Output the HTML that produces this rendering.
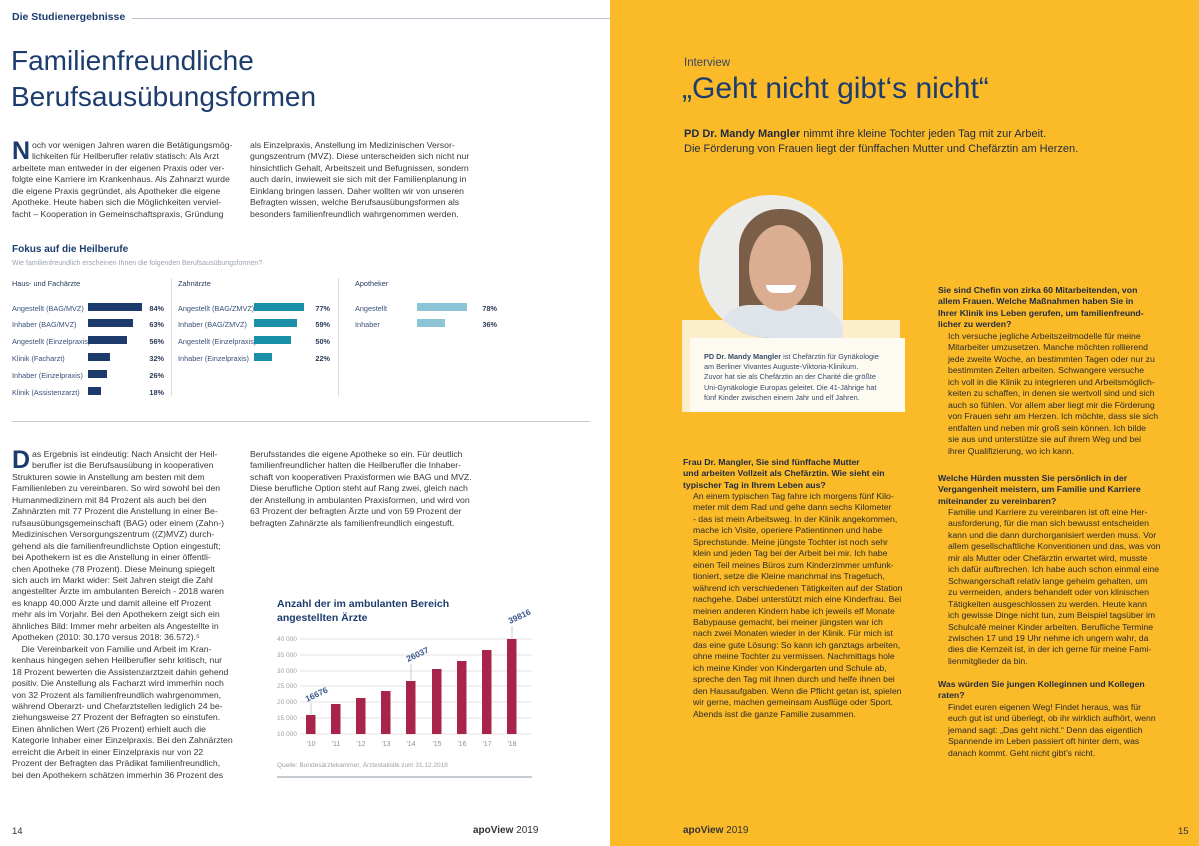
<!DOCTYPE html>
<html><head><meta charset="utf-8"><style>
*{margin:0;padding:0;box-sizing:border-box}
body{width:1199px;height:846px;position:relative;overflow:hidden;background:#fff;font-family:"Liberation Sans",sans-serif;color:#333}
.a{position:absolute;white-space:nowrap}
.t{font-size:8.7px;line-height:11.45px;color:#3a3a3a}
.r{font-size:8.7px;line-height:11.45px;color:#2b2b2b}
.q{font-weight:bold;color:#1f2a40}
.navy{color:#1d3c6e}
.bar{position:absolute;height:8px}
.lab{position:absolute;font-size:7.3px;color:#3a5078;white-space:nowrap}
.pct{position:absolute;font-size:7.3px;font-weight:bold;color:#2a3a58;text-align:right;width:30px}
.drop{position:absolute;left:0;top:0;font-size:25px;line-height:22px;font-weight:bold;color:#1d3c6e}
.ind{padding-left:20px}
</style></head><body>
<div class="a" style="left:610px;top:0;width:589px;height:846px;background:#fbba27"></div>

<div class="a navy" style="left:12px;top:11px;font-size:10.5px;font-weight:bold">Die Studienergebnisse</div>
<div class="a" style="left:132px;top:18px;width:478px;height:1px;background:#b9c2d0"></div>
<div class="a navy" style="left:11px;top:43px;font-size:28px;line-height:36px">Familienfreundliche<br>Berufsausübungsformen</div>

<div class="a t" style="left:12px;top:140px"><span class="drop">N</span><span class="ind">och vor wenigen Jahren waren die Betätigungsmög-</span><br><span class="ind">lichkeiten für Heilberufler relativ statisch: Als Arzt</span><br>arbeitete man entweder in der eigenen Praxis oder ver-<br>folgte eine Karriere im Krankenhaus. Als Zahnarzt wurde<br>die eigene Praxis gegründet, als Apotheker die eigene<br>Apotheke. Heute haben sich die Möglichkeiten verviel-<br>facht – Kooperation in Gemeinschaftspraxis, Gründung</div>
<div class="a t" style="left:250px;top:140px">als Einzelpraxis, Anstellung im Medizinischen Versor-<br>gungszentrum (MVZ). Diese unterscheiden sich nicht nur<br>hinsichtlich Gehalt, Arbeitszeit und Befugnissen, sondern<br>auch darin, inwieweit sie sich mit der Familienplanung in<br>Einklang bringen lassen. Daher wollten wir von unseren<br>Befragten wissen, welche Berufsausübungsformen als<br>besonders familienfreundlich wahrgenommen werden.</div>

<div class="a navy" style="left:12px;top:244px;font-size:10px;font-weight:bold">Fokus auf die Heilberufe</div>
<div class="a" style="left:12px;top:260px;font-size:7px;color:#9aa3b0">Wie familienfreundlich erscheinen Ihnen die folgenden Berufsausübungsformen?</div>
<div class="lab" style="left:12px;top:279px;color:#233a5e">Haus- und Fachärzte</div>
<div class="lab" style="left:178px;top:279px;color:#233a5e">Zahnärzte</div>
<div class="lab" style="left:355px;top:279px;color:#233a5e">Apotheker</div>
<div class="a" style="left:171px;top:278px;width:1px;height:118px;background:#ddd"></div>
<div class="a" style="left:338px;top:278px;width:1px;height:118px;background:#ddd"></div>

<div class="lab" style="left:12px;top:304px">Angestellt (BAG/MVZ)</div><div class="bar" style="left:88px;top:303px;width:54px;background:#1c3a6c"></div><div class="pct" style="left:134px;top:304px">84%</div>
<div class="lab" style="left:12px;top:320px">Inhaber (BAG/MVZ)</div><div class="bar" style="left:88px;top:319px;width:45px;background:#1c3a6c"></div><div class="pct" style="left:134px;top:320px">63%</div>
<div class="lab" style="left:12px;top:337px">Angestellt (Einzelpraxis)</div><div class="bar" style="left:88px;top:336px;width:39px;background:#1c3a6c"></div><div class="pct" style="left:134px;top:337px">56%</div>
<div class="lab" style="left:12px;top:354px">Klinik (Facharzt)</div><div class="bar" style="left:88px;top:353px;width:22px;background:#1c3a6c"></div><div class="pct" style="left:134px;top:354px">32%</div>
<div class="lab" style="left:12px;top:371px">Inhaber (Einzelpraxis)</div><div class="bar" style="left:88px;top:370px;width:19px;background:#1c3a6c"></div><div class="pct" style="left:134px;top:371px">26%</div>
<div class="lab" style="left:12px;top:388px">Klinik (Assistenzarzt)</div><div class="bar" style="left:88px;top:387px;width:13px;background:#1c3a6c"></div><div class="pct" style="left:134px;top:388px">18%</div>

<div class="lab" style="left:178px;top:304px">Angestellt (BAG/ZMVZ)</div><div class="bar" style="left:254px;top:303px;width:50px;background:#1a8fa8"></div><div class="pct" style="left:300px;top:304px">77%</div>
<div class="lab" style="left:178px;top:320px">Inhaber (BAG/ZMVZ)</div><div class="bar" style="left:254px;top:319px;width:43px;background:#1a8fa8"></div><div class="pct" style="left:300px;top:320px">59%</div>
<div class="lab" style="left:178px;top:337px">Angestellt (Einzelpraxis)</div><div class="bar" style="left:254px;top:336px;width:37px;background:#1a8fa8"></div><div class="pct" style="left:300px;top:337px">50%</div>
<div class="lab" style="left:178px;top:354px">Inhaber (Einzelpraxis)</div><div class="bar" style="left:254px;top:353px;width:18px;background:#1a8fa8"></div><div class="pct" style="left:300px;top:354px">22%</div>

<div class="lab" style="left:355px;top:304px">Angestellt</div><div class="bar" style="left:417px;top:303px;width:50px;background:#8cc3d6"></div><div class="pct" style="left:467px;top:304px">78%</div>
<div class="lab" style="left:355px;top:320px">Inhaber</div><div class="bar" style="left:417px;top:319px;width:28px;background:#8cc3d6"></div><div class="pct" style="left:467px;top:320px">36%</div>

<div class="a" style="left:12px;top:421px;width:578px;height:1px;background:#c4c9d2"></div>

<div class="a t" style="left:12px;top:449px"><span class="drop">D</span><span class="ind">as Ergebnis ist eindeutig: Nach Ansicht der Heil-</span><br><span class="ind">berufler ist die Berufsausübung in kooperativen</span><br>Strukturen sowie in Anstellung am besten mit dem<br>Familienleben zu vereinbaren. So wird sowohl bei den<br>Humanmedizinern mit 84 Prozent als auch bei den<br>Zahnärzten mit 77 Prozent die Anstellung in einer Be-<br>rufsausübungsgemeinschaft (BAG) oder einem (Zahn-)<br>Medizinischen Versorgungszentrum ((Z)MVZ) durch-<br>gehend als die familienfreundlichste Option eingestuft;<br>bei Apothekern ist es die Anstellung in einer öffentli-<br>chen Apotheke (78 Prozent). Diese Meinung spiegelt<br>sich auch im Markt wider: Seit Jahren steigt die Zahl<br>angestellter Ärzte im ambulanten Bereich - 2018 waren<br>es knapp 40.000 Ärzte und damit alleine elf Prozent<br>mehr als im Vorjahr. Bei den Apothekern zeigt sich ein<br>ähnliches Bild: Immer mehr arbeiten als Angestellte in<br>Apotheken (2010: 30.170 versus 2018: 36.572).⁵<br>&nbsp;&nbsp;&nbsp;&nbsp;Die Vereinbarkeit von Familie und Arbeit im Kran-<br>kenhaus hingegen sehen Heilberufler sehr kritisch, nur<br>18 Prozent bewerten die Assistenzarztzeit dahin gehend<br>positiv. Die Anstellung als Facharzt wird immerhin noch<br>von 32 Prozent als familienfreundlich wahrgenommen,<br>während Oberarzt- und Chefarztstellen lediglich 24 be-<br>ziehungsweise 27 Prozent der Befragten so einstufen.<br>Einen ähnlichen Wert (26 Prozent) erhielt auch die<br>Kategorie Inhaber einer Einzelpraxis. Bei den Zahnärzten<br>erreicht die Arbeit in einer Einzelpraxis nur von 22<br>Prozent der Befragten das Prädikat familienfreundlich,<br>bei den Apothekern schätzen immerhin 36 Prozent des</div>
<div class="a t" style="left:250px;top:449px">Berufsstandes die eigene Apotheke so ein. Für deutlich<br>familienfreundlicher halten die Heilberufler die Inhaber-<br>schaft von kooperativen Praxisformen wie BAG und MVZ.<br>Diese berufliche Option steht auf Rang zwei, gleich nach<br>der Anstellung in ambulanten Praxisformen, und wird von<br>63 Prozent der befragten Ärzte und von 59 Prozent der<br>befragten Zahnärzte als familienfreundlich eingestuft.</div>

<div class="a navy" style="left:277px;top:597px;font-size:10.5px;font-weight:bold;line-height:14px">Anzahl der im ambulanten Bereich<br>angestellten Ärzte</div>
<svg class="a" style="left:0;top:0" width="610" height="846">
<g font-family="Liberation Sans" font-size="6.5" fill="#9aa0a8">
<text x="277" y="641">40 000</text><text x="277" y="657">35 000</text><text x="277" y="673">30 000</text><text x="277" y="688">25 000</text><text x="277" y="704">20 000</text><text x="277" y="720">15 000</text><text x="277" y="736">10 000</text>
</g>
<g stroke="#e3e3e3" stroke-width="1">
<line x1="300" y1="639" x2="532" y2="639"/><line x1="300" y1="655" x2="532" y2="655"/><line x1="300" y1="671" x2="532" y2="671"/><line x1="300" y1="686" x2="532" y2="686"/><line x1="300" y1="702" x2="532" y2="702"/><line x1="300" y1="718" x2="532" y2="718"/><line x1="300" y1="734" x2="532" y2="734"/>
</g>
<g fill="#a8244a">
<rect x="306" y="715" width="9.5" height="19"/>
<rect x="331" y="704" width="9.5" height="30"/>
<rect x="356" y="698" width="9.5" height="36"/>
<rect x="381" y="691" width="9.5" height="43"/>
<rect x="406" y="681" width="9.5" height="53"/>
<rect x="432" y="669" width="9.5" height="65"/>
<rect x="457" y="661" width="9.5" height="73"/>
<rect x="482" y="650" width="9.5" height="84"/>
<rect x="507" y="639" width="9.5" height="95"/>
</g>
<g stroke="#bbb" stroke-width="0.7"><line x1="311" y1="714" x2="311" y2="703"/><line x1="411" y1="680" x2="411" y2="664"/><line x1="512" y1="638" x2="512" y2="626"/></g>
<g font-family="Liberation Sans" font-size="8.5" font-weight="bold" fill="#3d5a8a">
<text transform="translate(307,702) rotate(-25)">16676</text>
<text transform="translate(408,662) rotate(-25)">26037</text>
<text transform="translate(510,624) rotate(-25)">39816</text>
</g>
<g font-family="Liberation Sans" font-size="7" fill="#8a8f98" text-anchor="middle">
<text x="311" y="746">'10</text><text x="336" y="746">'11</text><text x="361" y="746">'12</text><text x="386" y="746">'13</text><text x="411" y="746">'14</text><text x="437" y="746">'15</text><text x="462" y="746">'16</text><text x="487" y="746">'17</text><text x="512" y="746">'18</text>
</g>
<text x="277" y="767" font-family="Liberation Sans" font-size="6.5" fill="#9aa0a8">Quelle: Bundesärztekammer, Ärztestatistik zum 31.12.2018</text>
<rect x="277" y="776" width="255" height="2" fill="#c5cad1"/>
</svg>

<div class="a" style="left:12px;top:826px;font-size:9.5px;color:#333">14</div>
<div class="a" style="left:473px;top:825px;font-size:10px;color:#333"><b>apoView</b> 2019</div>

<div class="a" style="left:684px;top:57px;font-size:11.5px;color:#34466a">Interview</div>
<div class="a navy" style="left:682px;top:72px;font-size:30px">„Geht nicht gibt‘s nicht“</div>
<div class="a" style="left:684px;top:127px;font-size:11px;line-height:15px;color:#1f2a40"><b>PD Dr. Mandy Mangler</b> nimmt ihre kleine Tochter jeden Tag mit zur Arbeit.<br>Die Förderung von Frauen liegt der fünffachen Mutter und Chefärztin am Herzen.</div>

<div class="a" style="left:682px;top:320px;width:218px;height:92px;background:#fdeecb"></div>
<div class="a" style="left:699px;top:195px;width:144px;height:143px;border-radius:72px 72px 0 72px;background:#ebebea;overflow:hidden">
 <div class="a" style="left:40px;top:14px;width:84px;height:130px;border-radius:40px 40px 10px 10px;background:#7a5e48"></div>
 <div class="a" style="left:20px;top:110px;width:124px;height:40px;border-radius:30px 30px 0 0;background:#dfe3ea"></div>
 <div class="a" style="left:50px;top:30px;width:62px;height:86px;border-radius:50%;background:#dcae91"></div>
 <div class="a" style="left:67px;top:90px;width:30px;height:8px;border-radius:0 0 12px 12px;background:#fff"></div>
</div>
<div class="a" style="left:690px;top:338px;width:215px;height:74px;background:#fdfaf2"></div>
<div class="a" style="left:704px;top:352px;font-size:7.3px;line-height:10.2px;color:#3a4a6a">
<b>PD Dr. Mandy Mangler</b> ist Chefärztin für Gynäkologie<br>am Berliner Vivantes Auguste-Viktoria-Klinikum.<br>Zuvor hat sie als Chefärztin an der Charité die größte<br>Uni-Gynäkologie Europas geleitet. Die 41-Jährige hat<br>fünf Kinder zwischen einem Jahr und elf Jahren.</div>

<div class="a r" style="left:683px;top:457px"><span class="q">Frau Dr. Mangler, Sie sind fünffache Mutter<br>und arbeiten Vollzeit als Chefärztin. Wie sieht ein<br>typischer Tag in Ihrem Leben aus?</span></div>
<div class="a r" style="left:693px;top:491px">An einem typischen Tag fahre ich morgens fünf Kilo-<br>meter mit dem Rad und gehe dann sechs Kilometer<br>- das ist mein Arbeitsweg. In der Klinik angekommen,<br>mache ich Visite, operiere Patientinnen und habe<br>Sprechstunde. Meine jüngste Tochter ist noch sehr<br>klein und jeden Tag bei der Arbeit bei mir. Ich habe<br>einen Teil meines Büros zum Kinderzimmer umfunk-<br>tioniert, setze die Kleine manchmal ins Tragetuch,<br>während ich verschiedenen Tätigkeiten auf der Station<br>nachgehe. Dabei unterstützt mich eine Kinderfrau. Bei<br>meinen anderen Kindern habe ich jeweils elf Monate<br>Babypause gemacht, bei meiner jüngsten war ich<br>nach zwei Monaten wieder in der Klinik. Für mich ist<br>das eine gute Lösung: So kann ich ganztags arbeiten,<br>ohne meine Tochter zu vermissen. Nachmittags hole<br>ich meine Kinder von Kindergarten und Schule ab,<br>spreche den Tag mit ihnen durch und helfe ihnen bei<br>den Hausaufgaben. Wenn die Pflicht getan ist, spielen<br>wir gerne, machen gemeinsam Ausflüge oder Sport.<br>Abends isst die ganze Familie zusammen.</div>

<div class="a r" style="left:938px;top:285px"><span class="q">Sie sind Chefin von zirka 60 Mitarbeitenden, von<br>allem Frauen. Welche Maßnahmen haben Sie in<br>Ihrer Klinik ins Leben gerufen, um familienfreund-<br>licher zu werden?</span></div>
<div class="a r" style="left:948px;top:331px">Ich versuche jegliche Arbeitszeitmodelle für meine<br>Mitarbeiter umzusetzen. Manche möchten rollierend<br>jede zweite Woche, an bestimmten Tagen oder nur zu<br>bestimmten Zeiten arbeiten. Schwangere versuche<br>ich voll in die Klinik zu integrieren und Arbeitsmöglich-<br>keiten zu schaffen, in denen sie wertvoll sind und sich<br>auch so fühlen. Vor allem aber liegt mir die Förderung<br>von Frauen sehr am Herzen. Ich möchte, dass sie sich<br>entfalten und neben mir groß sein können. Ich bilde<br>sie aus und unterstütze sie auf ihrem Weg und bei<br>ihrer Qualifizierung, wo ich kann.</div>
<div class="a r" style="left:938px;top:473px"><span class="q">Welche Hürden mussten Sie persönlich in der<br>Vergangenheit meistern, um Familie und Karriere<br>miteinander zu vereinbaren?</span></div>
<div class="a r" style="left:948px;top:507px">Familie und Karriere zu vereinbaren ist oft eine Her-<br>ausforderung, für die man sich bewusst entscheiden<br>kann und die dann durchorganisiert werden muss. Vor<br>allem gesellschaftliche Konventionen und das, was von<br>mir als Mutter oder Chefärztin erwartet wird, musste<br>ich dafür aufbrechen. Ich habe auch schon einmal eine<br>Schwangerschaft relativ lange geheim gehalten, um<br>zu vermeiden, anders behandelt oder von klinischen<br>Tätigkeiten ausgeschlossen zu werden. Heute kann<br>ich gewisse Dinge nicht tun, zum Beispiel tagsüber im<br>Schulcafé meiner Kinder arbeiten. Berufliche Termine<br>zwischen 17 und 19 Uhr nehme ich ungern wahr, da<br>dies die Kernzeit ist, in der ich gerne für meine Fami-<br>lienmitglieder da bin.</div>
<div class="a r" style="left:938px;top:679px"><span class="q">Was würden Sie jungen Kolleginnen und Kollegen<br>raten?</span></div>
<div class="a r" style="left:948px;top:702px">Findet euren eigenen Weg! Findet heraus, was für<br>euch gut ist und überlegt, ob ihr wirklich aufhört, wenn<br>jemand sagt: „Das geht nicht.“ Denn das eigentlich<br>Spannende im Leben passiert oft hinter dem, was<br>danach kommt. Geht nicht gibt’s nicht.</div>

<div class="a" style="left:683px;top:825px;font-size:10px;color:#333"><b>apoView</b> 2019</div>
<div class="a" style="left:1178px;top:826px;font-size:9.5px;color:#333">15</div>
</body></html>
